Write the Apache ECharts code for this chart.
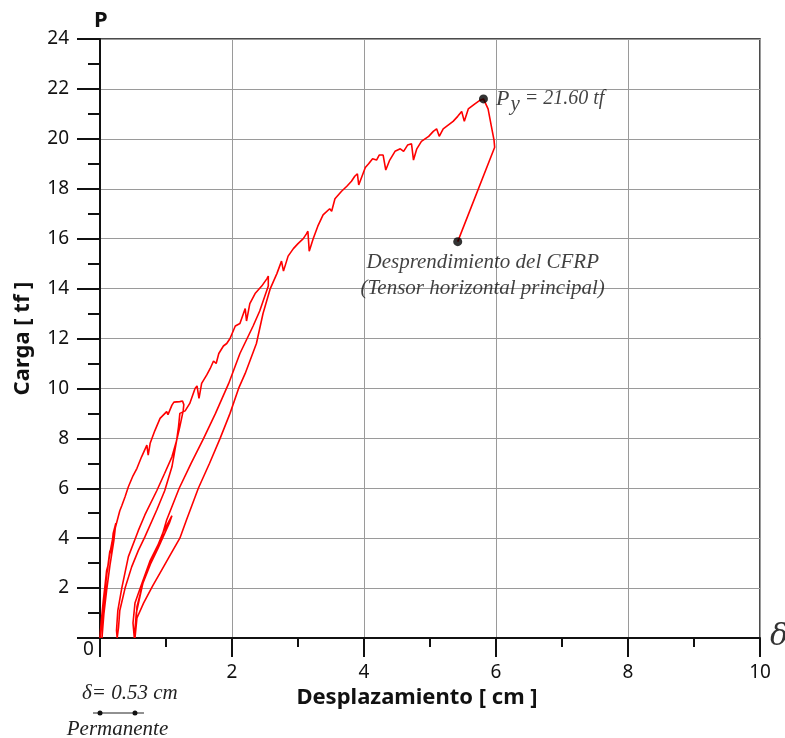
<!DOCTYPE html>
<html>
<head>
<meta charset="utf-8">
<title>Carga - Desplazamiento</title>
<script src="https://cdn.jsdelivr.net/npm/echarts@6/dist/echarts.min.js"></script>
<style>
  html, body { margin: 0; padding: 0; background: #fff; }
  #chart { width: 785px; height: 738px; }
</style>
</head>
<body>
<div id="chart"></div>
<script>
// ciclos de carga / descarga  [desplazamiento cm, carga tf]
const ciclo1 = [[0, 0], [0.02, 0.7], [0.05, 1.5], [0.08, 2.2], [0.1, 2.7], [0.12, 2.9], [0.15, 3.5], [0.17, 3.4],
  [0.2, 4.2], [0.24, 4.6], [0.21, 3.9], [0.15, 2.9], [0.1, 1.9], [0.06, 1.0], [0.03, 0]]
const ciclo2 = [[0.03, 0], [0.04, 0.8], [0.07, 1.7], [0.1, 2.5], [0.15, 3.4], [0.2, 4.1], [0.26, 4.7], [0.3, 5.1],
  [0.33, 5.3], [0.38, 5.66], [0.43, 6.06], [0.5, 6.5], [0.56, 6.8], [0.63, 7.26], [0.71, 7.73], [0.73, 7.33],
  [0.76, 7.8], [0.83, 8.3], [0.91, 8.8], [1.01, 9.07], [1.03, 8.95], [1.09, 9.33], [1.12, 9.45], [1.21, 9.47],
  [1.25, 9.5], [1.27, 9.35], [1.26, 9.1], [1.21, 8.47], [1.16, 7.9], [1.09, 7.26], [0.98, 6.6], [0.86, 5.9],
  [0.68, 4.93], [0.58, 4.3], [0.43, 3.26], [0.33, 2.0], [0.27, 1.1], [0.25, 0.3], [0.26, 0]]
const ciclo3 = [[0.26, 0], [0.28, 0.4], [0.3, 1.1], [0.38, 2.0], [0.48, 2.85], [0.58, 3.5], [0.68, 4.05],
  [0.86, 5.13], [0.98, 5.9], [1.09, 6.86], [1.16, 7.9], [1.19, 8.47], [1.21, 9.0], [1.29, 9.1], [1.36, 9.4],
  [1.44, 10.0], [1.47, 10.1], [1.5, 9.6], [1.54, 10.2], [1.62, 10.55], [1.67, 10.8], [1.72, 11.1], [1.76, 11.0],
  [1.8, 11.4], [1.87, 11.7], [1.92, 11.8], [1.97, 12.0], [2.05, 12.5], [2.12, 12.6], [2.2, 13.2], [2.22, 12.7],
  [2.27, 13.4], [2.35, 13.8], [2.45, 14.1], [2.53, 14.4], [2.55, 14.5]]
const descarga3 = [[2.55, 14.1], [2.42, 13.1], [2.32, 12.5], [2.12, 11.4], [1.95, 10.2], [1.75, 9.0], [1.57, 8.0],
  [1.38, 7.0], [1.2, 6.0], [1.01, 4.73], [0.93, 4.0], [0.76, 3.1], [0.61, 2.0], [0.53, 1.4], [0.5, 0.6], [0.52, 0]]
const ciclo4 = [[0.52, 0], [0.55, 1.0], [0.65, 2.2], [0.8, 3.2], [0.95, 4.2], [1.09, 4.9], [1.05, 4.6],
  [0.88, 3.6], [0.68, 2.5], [0.56, 1.25], [0.53, 0]]
const ciclo5 = [[0.53, 0], [0.56, 0.8], [0.66, 1.4], [0.8, 2.1], [0.93, 2.7], [1.08, 3.4], [1.21, 4.0],
  [1.31, 4.73], [1.49, 6.0], [1.66, 7.0], [1.82, 8.0], [1.97, 9.0], [2.1, 10.0], [2.2, 10.6], [2.37, 11.8],
  [2.47, 13.0], [2.58, 14.0], [2.63, 14.3], [2.68, 14.6], [2.75, 15.1], [2.78, 14.7], [2.85, 15.3], [2.93, 15.6],
  [3.0, 15.8], [3.08, 16.0], [3.13, 16.2], [3.15, 16.3], [3.17, 15.5], [3.23, 16.0], [3.3, 16.5], [3.38, 16.95],
  [3.48, 17.2], [3.51, 17.1], [3.56, 17.6], [3.66, 17.9], [3.74, 18.1], [3.81, 18.3], [3.86, 18.5], [3.9, 18.6],
  [3.92, 18.15], [4.02, 18.85], [4.07, 19.0], [4.13, 19.2], [4.19, 19.15], [4.23, 19.35], [4.29, 19.35],
  [4.33, 18.75], [4.39, 19.15], [4.47, 19.5], [4.55, 19.6], [4.6, 19.5], [4.66, 19.75], [4.72, 19.8],
  [4.75, 19.15], [4.8, 19.6], [4.87, 19.9], [4.98, 20.1], [5.05, 20.3], [5.1, 20.4], [5.14, 20.1], [5.2, 20.4],
  [5.25, 20.5], [5.35, 20.7], [5.42, 20.9], [5.48, 21.1], [5.52, 20.7], [5.58, 21.2], [5.68, 21.4],
  [5.76, 21.55], [5.81, 21.6]]
const falla = [[5.81, 21.6], [5.88, 21.2], [5.93, 20.5], [5.97, 19.95], [5.98, 19.66], [5.42, 15.88]]

// puntos notables
const puntoFluencia = [[5.81, 21.6]]
const puntoDesprendimiento = [[5.42, 15.88]]
const permanente = 0.53

const xTicks = [0, 2, 4, 6, 8, 10]
const yTicks = [0, 2, 4, 6, 8, 10, 12, 14, 16, 18, 20, 22, 24]

const curva = [].concat(ciclo1, ciclo2, ciclo3, descarga3, ciclo4, ciclo5, falla)

const sans = 'Noto Sans'
const serif = 'Liberation Serif'

const chart = echarts.init(document.getElementById('chart'), null, { renderer: 'canvas' })

chart.setOption({
  animation: false,
  backgroundColor: '#fff',
  grid: {
    left: 100,
    right: 25,
    top: 39,
    bottom: 100,
    show: true,
    borderColor: '#111',
    borderWidth: 1.5
  },
  xAxis: {
    type: 'value',
    min: xTicks[0],
    max: xTicks[xTicks.length - 1],
    interval: 2,
    name: 'Desplazamiento [ cm ]',
    nameLocation: 'middle',
    nameGap: 46,
    nameTextStyle: { fontFamily: sans, fontWeight: 'bold', fontSize: 22, color: '#111', padding: [0, 26, 0, 0] },
    axisLine: { lineStyle: { color: '#111', width: 2 } },
    axisTick: { inside: false, length: 19, lineStyle: { color: '#111', width: 2 } },
    minorTick: { show: true, splitNumber: 2, length: 9, lineStyle: { color: '#111', width: 2 } },
    axisLabel: {
      fontFamily: sans, fontSize: 19, color: '#111', margin: 25,
      formatter: v => (v === 0 ? '' : String(v))
    },
    splitLine: { show: true, lineStyle: { color: '#9a9a9a', width: 1 } }
  },
  yAxis: {
    type: 'value',
    min: yTicks[0],
    max: yTicks[yTicks.length - 1],
    interval: 2,
    name: 'Carga [ tf ]',
    nameLocation: 'middle',
    nameGap: 66,
    nameTextStyle: { fontFamily: sans, fontWeight: 'bold', fontSize: 22, color: '#111' },
    axisLine: { lineStyle: { color: '#111', width: 2 } },
    axisTick: { inside: false, length: 23, lineStyle: { color: '#111', width: 2 } },
    minorTick: { show: true, splitNumber: 2, length: 12, lineStyle: { color: '#111', width: 2 } },
    axisLabel: {
      fontFamily: sans, fontSize: 19, color: '#111', margin: 31,
      formatter: v => (v === 0 ? '' : String(v))
    },
    splitLine: { show: true, lineStyle: { color: '#9a9a9a', width: 1 } }
  },
  series: [
    {
      name: 'Carga',
      type: 'line',
      data: curva,
      showSymbol: false,
      smooth: false,
      lineStyle: { color: '#ff0000', width: 1.6 },
      z: 3
    },
    {
      name: 'Py',
      type: 'scatter',
      data: puntoFluencia,
      symbolSize: 9,
      itemStyle: { color: '#000' },
      z: 4,
      label: {
        show: true,
        position: 'right',
        distance: 8,
        formatter: '{p|P}{s|y}{t| = 21.60 tf}',
        rich: {
          p: { fontFamily: serif, fontStyle: 'italic', fontSize: 22, color: '#111' },
          s: { fontFamily: serif, fontStyle: 'italic', fontSize: 21, color: '#111', padding: [12, 0, 0, 1] },
          t: { fontFamily: serif, fontStyle: 'italic', fontSize: 20, color: '#111' }
        }
      }
    },
    {
      name: 'Desprendimiento',
      type: 'scatter',
      data: puntoDesprendimiento,
      symbolSize: 9,
      itemStyle: { color: '#000' },
      z: 4,
      label: {
        show: true,
        position: 'bottom',
        distance: 3,
        offset: [25, 0],
        align: 'center',
        formatter: 'Desprendimiento del CFRP\n(Tensor horizontal principal)',
        fontFamily: serif,
        fontStyle: 'italic',
        fontSize: 21,
        lineHeight: 26,
        color: '#111'
      }
    }
  ]
})

// anotaciones fuera del area de trazado
const p0 = chart.convertToPixel({ gridIndex: 0 }, [0, 0])
const p1 = chart.convertToPixel({ gridIndex: 0 }, [permanente, 0])
const pTop = chart.convertToPixel({ gridIndex: 0 }, [0, yTicks[yTicks.length - 1]])
const pEnd = chart.convertToPixel({ gridIndex: 0 }, [xTicks[xTicks.length - 1], 0])
const yPerm = p0[1] + 75

chart.setOption({
  graphic: [
    {
      type: 'text', left: pTop[0] - 6, top: pTop[1] - 29,
      style: { text: 'P', font: 'bold 22px "Noto Sans"', fill: '#111' }
    },
    {
      type: 'text', x: pEnd[0] + 10, y: pEnd[1] - 1,
      style: { text: 'δ', font: 'italic 30px "DejaVu Serif"', fill: '#333', verticalAlign: 'middle' }
    },
    {
      type: 'text', x: p0[0] - 17, y: p0[1] + 12,
      style: { text: '0', font: '19px "Noto Sans"', fill: '#111', verticalAlign: 'middle' }
    },
    {
      type: 'text', x: p0[0] - 18, y: p0[1] + 55,
      style: { text: 'δ= 0.53 cm', font: 'italic 21px "Liberation Serif"', fill: '#222', verticalAlign: 'middle' }
    },
    {
      type: 'line',
      shape: { x1: p0[0] - 7, y1: yPerm, x2: p1[0] + 9, y2: yPerm },
      style: { stroke: '#222', lineWidth: 1 }
    },
    { type: 'circle', shape: { cx: p0[0], cy: yPerm, r: 2.5 }, style: { fill: '#111' } },
    { type: 'circle', shape: { cx: p1[0], cy: yPerm, r: 2.5 }, style: { fill: '#111' } },
    {
      type: 'text', x: (p0[0] + p1[0]) / 2, y: yPerm + 16,
      style: { text: 'Permanente', font: 'italic 21px "Liberation Serif"', fill: '#222', align: 'center', verticalAlign: 'middle' }
    }
  ]
})
</script>
</body>
</html>
